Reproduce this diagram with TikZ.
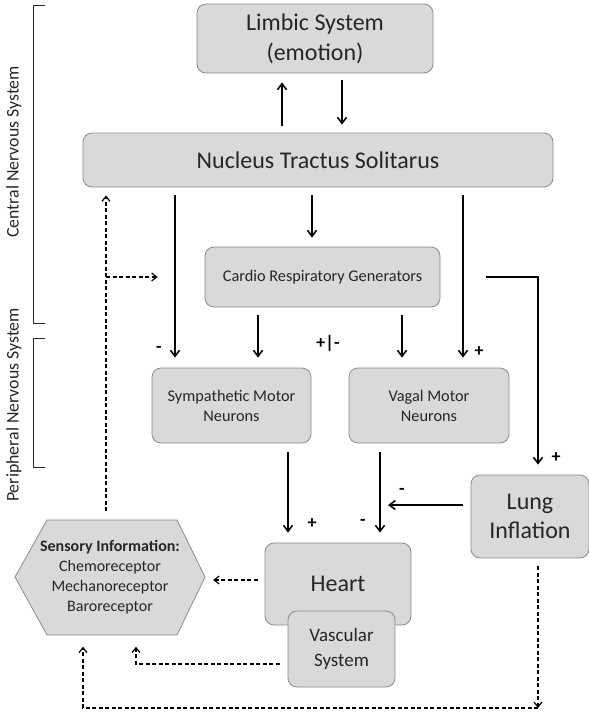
\documentclass[tikz,border=0pt]{standalone}
\usepackage{fontspec}
\setmainfont{Carlito}
\usetikzlibrary{arrows.meta}
\definecolor{boxfill}{HTML}{D9D9D9}
\definecolor{boxline}{HTML}{8C8C8C}
\definecolor{txt}{HTML}{262626}
\newcommand{\fs}[2]{\fontsize{#1}{#2}\selectfont}
\tikzset{
  blk/.style={draw=boxline, fill=boxfill, rounded corners=9pt, inner sep=0pt,
    align=center, text=txt, line width=0.8pt},
  arr/.style={-{Straight Barb[length=6pt,width=9pt,line width=1.6pt]}, line width=1.4pt},
  darr/.style={-{Straight Barb[length=5pt,width=8pt]}, line width=1.2pt,
    dash pattern=on 4pt off 2.5pt},
  sgn/.style={text=black, font=\fs{18}{20}\bfseries}
}
\begin{document}
\begin{tikzpicture}[x=1pt,y=-1pt]
		\useasboundingbox (0,0) rectangle (589,718);
		%
		\node[blk, minimum width=236, minimum height=69, font=\fs{24}{30}] (limbic) at (315,38.5) {Limbic System\\(emotion)};
		\node[blk, minimum width=470, minimum height=54, font=\fs{24}{28}] (nts) at (318,160) {Nucleus Tractus Solitarus};
		\node[blk, minimum width=235, minimum height=60, font=\fs{16.3}{19}] (crg) at (322.5,277) {Cardio Respiratory Generators};
		\node[blk, minimum width=159, minimum height=75, font=\fs{16.3}{20}] (symp) at (231.5,405.5) {Sympathetic Motor\\Neurons};
		\node[blk, minimum width=160, minimum height=75, font=\fs{16.3}{20}] (vagal) at (429,405.5) {Vagal Motor\\Neurons};
		\node[blk, minimum width=118, minimum height=83, font=\fs{24}{29}] (lung) at (530,516.5) {Lung\\Inflation};
		\node[blk, minimum width=146, minimum height=82, font=\fs{24}{28}] (heart) at (338,584) {Heart};
		\node[blk, minimum width=107, minimum height=76, font=\fs{19}{25}] (vasc) at (341.5,649) {Vascular\\System};
		%
		\fill[boxfill] (15,577) -- (47,520) -- (177,520) -- (205,577) -- (177,635) -- (47,635) -- cycle;
		\draw[boxline, line width=0.8pt] (15,577) -- (47,520) -- (177,520) -- (205,577) -- (177,635) -- (47,635) -- cycle;
		\node[minimum width=190, minimum height=115, inner sep=0pt, align=center, text=txt, font=\fs{16}{20}] (sens) at (110,577)
		{\textbf{Sensory Information:}\\Chemoreceptor\\Mechanoreceptor\\Baroreceptor};
		%
		\draw[line width=1pt, txt] (45,5) -- (33,5) -- (33,323) -- (45,323);
		\draw[line width=1pt, txt] (45,338) -- (33,338) -- (33,467) -- (45,467);
		\node[rotate=90, text=txt, font=\fs{17.8}{20}] (cns) at (14,152) {Central Nervous System};
		\node[rotate=90, text=txt, font=\fs{17.8}{20}] (pns) at (14,405) {Peripheral Nervous System};
		%
		\draw[arr, shorten <=7pt, shorten >=9pt] ([xshift=-36]nts.north) -- ([xshift=-36]nts.north |- limbic.south);
		\draw[arr, shorten <=7pt, shorten >=8pt] ([xshift=27]limbic.south) -- ([xshift=27]limbic.south |- nts.north);
		\draw[arr, shorten <=8pt, shorten >=10pt] ([xshift=-143]nts.south) -- ([xshift=-143]nts.south |- symp.north);
		\draw[arr, shorten <=8pt, shorten >=9pt] ([xshift=-6]nts.south) -- ([xshift=-6]nts.south |- crg.north);
		\draw[arr, shorten <=8pt, shorten >=10pt] ([xshift=145]nts.south) -- ([xshift=145]nts.south |- vagal.north);
		\draw[arr, shorten <=8pt, shorten >=10pt] ([xshift=-64.5]crg.south) -- ([xshift=-64.5]crg.south |- symp.north);
		\draw[arr, shorten <=8pt, shorten >=10pt] ([xshift=79.5]crg.south) -- ([xshift=79.5]crg.south |- vagal.north);
		\draw[arr, shorten <=46pt, shorten >=10pt] (crg.east) -| ([xshift=8]lung.north);
		\draw[arr, shorten <=9pt, shorten >=10pt] ([xshift=56.5]symp.south) -- ([xshift=56.5]symp.south |- heart.north);
		\draw[arr, shorten <=9pt, shorten >=10pt] ([xshift=-49]vagal.south) -- ([xshift=-49]vagal.south |- heart.north);
		\coordinate (lmeet) at (388,505);
		\draw[arr, shorten <=8pt] ([yshift=11.5]lung.west) -- (lmeet);
		%
		\node[sgn] (m1) at (159,349) {-};
		\node[sgn] (pm) at (328,343) {+|-};
		\node[sgn] (p1) at (479,352) {+};
		\node[sgn] (p2) at (556,458) {+};
		\node[sgn] (p3) at (312,524) {+};
		\node[sgn] (m2) at (363,522) {-};
		\node[sgn] (m3) at (402,491) {-};
		%
		\coordinate (br) at (106,277);
		\coordinate (lcorner) at (538,708);
		\draw[darr, shorten <=8pt, shorten >=8pt] ([xshift=-4]sens.north) -- ([xshift=-4]sens.north |- nts.south);
		\draw[darr, shorten >=47pt] (br) -- (br -| crg.west);
		\draw[darr, shorten <=7pt, shorten >=8pt] ([yshift=4]heart.west) -- ([yshift=4]heart.west -| sens.east);
		\draw[darr, shorten <=8pt, shorten >=12pt] ([yshift=-15]vasc.west) -| ([xshift=26]sens.south);
		\draw[darr, shorten <=8pt] ([xshift=8]lung.south) -- (lcorner);
		\draw[darr, shorten >=12pt] (lcorner) -| ([xshift=-27]sens.south);
		\end{tikzpicture}
\end{document}
